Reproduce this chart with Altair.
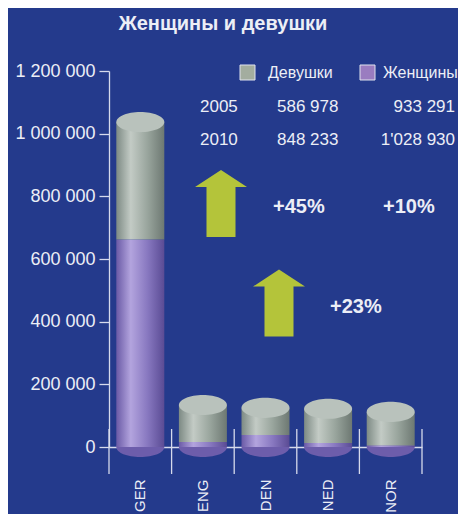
import altair as alt
import pandas as pd

# ---------------- data ----------------
categories = ["GER", "ENG", "DEN", "NED", "NOR"]
women = [662000, 16000, 38000, 13000, 5000]        # Женщины (purple, lower part)
girls = [375000, 118000, 87000, 109000, 107000]    # Девушки (grey, upper part)

legend_labels = ["Девушки", "Женщины"]
years = ["2005", "2010"]
girls_totals = ["586 978", "848 233"]
women_totals = ["933 291", "1'028 930"]
changes = ["+45%", "+10%", "+23%"]
y_ticks = [0, 200000, 400000, 600000, 800000, 1000000, 1200000]
title_text = "Женщины и девушки"

# ---------------- styles ----------------
FONT = "Liberation Sans"
BG = "#243a8c"
TXT = "#eceef6"
AXIS = "#d6daec"
ARROW_C = "#b4c43a"
W = 313
H = 376
BAR_W = 48

ELLIPSE = ("M-1,0 C-1,-0.232 -0.552,-0.42 0,-0.42 C0.552,-0.42 1,-0.232 1,0 "
           "C1,0.232 0.552,0.42 0,0.42 C-0.552,0.42 -1,0.232 -1,0 Z")
ARROW = ("M0,-1 L0.776,-0.49 L0.433,-0.49 L0.433,1 L-0.433,1 "
         "L-0.433,-0.49 L-0.776,-0.49 Z")

purple_grad = alt.LinearGradient(
    gradient="linear", x1=0, x2=1, y1=0, y2=0,
    stops=[alt.GradientStop(offset=0, color="#6a5aa6"),
           alt.GradientStop(offset=0.3, color="#b3a4de"),
           alt.GradientStop(offset=0.65, color="#8878c0"),
           alt.GradientStop(offset=1, color="#5a4b94")])
grey_grad = alt.LinearGradient(
    gradient="linear", x1=0, x2=1, y1=0, y2=0,
    stops=[alt.GradientStop(offset=0, color="#7d8a84"),
           alt.GradientStop(offset=0.3, color="#c3cbc5"),
           alt.GradientStop(offset=0.65, color="#99a59d"),
           alt.GradientStop(offset=1, color="#6d7872")])

df = pd.DataFrame({
    "category": categories,
    "women": women,
    "girls": girls,
})
df["total"] = df["women"] + df["girls"]
df["zero"] = 0

xscale = alt.Scale(domain=categories, paddingInner=0, paddingOuter=0)
yscale = alt.Scale(domain=[0, 1200000], nice=False)

x_axis = alt.Axis(title=None, labelAngle=-90, labelFont=FONT, labelFontSize=15,
                  labelColor=TXT, domainColor=AXIS, domainWidth=1.3, ticks=False,
                  labelPadding=32, grid=False)
y_axis = alt.Axis(title=None, values=y_ticks, labelFont=FONT, labelFontSize=18,
                  labelColor=TXT, domainColor=AXIS, domainWidth=1.3, tickColor=AXIS,
                  tickWidth=1.3, tickSize=10, labelPadding=4, grid=False,
                  labelExpr="replace(format(datum.value, ','), regexp(',', 'g'), ' ')")


def X():
    return alt.X("category:N", scale=xscale, sort=categories, axis=x_axis)


def Y(field):
    return alt.Y(f"{field}:Q", scale=yscale, axis=y_axis, title=None)


base = alt.Chart(df)

bottom_cap = base.mark_point(shape=ELLIPSE, size=BAR_W ** 2, filled=True,
                             color="#6d5dab", opacity=1).encode(x=X(), y=Y("zero"))
women_bar = base.mark_bar(width=BAR_W, color=purple_grad).encode(
    x=X(), y=Y("zero"), y2="women:Q")
girls_bar = base.mark_bar(width=BAR_W, color=grey_grad).encode(
    x=X(), y=Y("women"), y2="total:Q")
top_cap = base.mark_point(shape=ELLIPSE, size=BAR_W ** 2, filled=True,
                          color="#b9c2bc", opacity=1).encode(x=X(), y=Y("total"))

stub_rules = base.mark_rule(color=AXIS, strokeWidth=1.3).encode(
    x=alt.X("category:N", scale=xscale, sort=categories, bandPosition=0, axis=x_axis),
    y=alt.value(H - 18), y2=alt.value(H + 27))
end_rule = alt.Chart(df[df["category"] == categories[-1]]).mark_rule(
    color=AXIS, strokeWidth=1.3).encode(
    x=alt.X("category:N", scale=xscale, sort=categories, bandPosition=1, axis=x_axis),
    y=alt.value(H - 18), y2=alt.value(H + 27))


def txt(text, x, y, size=17, bold=False, align="left"):
    return alt.Chart(pd.DataFrame({"t": [text]})).mark_text(
        align=align, baseline="alphabetic", font=FONT, fontSize=size,
        fontWeight="bold" if bold else "normal", color=TXT).encode(
        x=alt.value(x), y=alt.value(y), text="t:N")


def square(x, y, color):
    return alt.Chart(pd.DataFrame({"a": [0]})).mark_square(
        size=225, color=color, opacity=1, stroke="#dfe2ee", strokeWidth=1).encode(
        x=alt.value(x), y=alt.value(y))


def arrow(x, y):
    return alt.Chart(pd.DataFrame({"a": [0]})).mark_point(
        shape=ARROW, size=67 ** 2, filled=True, color=ARROW_C, opacity=1).encode(
        x=alt.value(x), y=alt.value(y))


annotations = [
    txt(title_text, 114, -41, size=20, bold=True, align="center"),
    square(138.5, 1.5, "#a3ad9f"),
    txt(legend_labels[0], 159, 7, size=16),
    square(258.5, 1.5, "#9a7cc0"),
    txt(legend_labels[1], 274, 7, size=16),
    txt(years[0], 91, 41), txt(girls_totals[0], 168, 41), txt(women_totals[0], 346, 41, align="right"),
    txt(years[1], 91, 74), txt(girls_totals[1], 168, 74), txt(women_totals[1], 346, 74, align="right"),
    arrow(112, 132.5),
    arrow(170, 232),
    txt(changes[0], 164, 142, size=20, bold=True),
    txt(changes[1], 274, 142, size=20, bold=True),
    txt(changes[2], 221, 242, size=20, bold=True),
]

chart = alt.layer(
    bottom_cap, women_bar, girls_bar, top_cap, stub_rules, end_rule, *annotations
).properties(
    width=W, height=H, background=BG,
    padding={"left": 101, "top": 63, "right": 36, "bottom": 67},
    autosize=alt.AutoSizeParams(type="none"),
).configure_view(stroke=None)

chart.save("out.html", embed_options={"renderer": "svg", "actions": False})
